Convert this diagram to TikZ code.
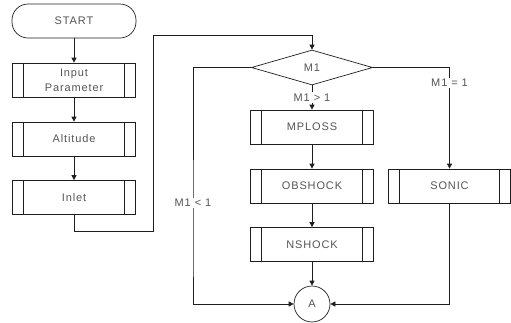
\documentclass[tikz,border=0pt]{standalone}
\usepackage{fontspec}
\setmainfont[LetterSpace=8]{Liberation Sans}
\usepackage{tikz}
\usetikzlibrary{shapes.geometric, arrows.meta}
\definecolor{ink}{RGB}{30,30,30}
\definecolor{txt}{RGB}{85,85,85}

\tikzset{
    box/.style={draw=ink, text=txt, font=\fontsize{11}{15}\selectfont,
        minimum width=123pt, minimum height=34pt, inner sep=0pt},
    proc/.style={box, align=center,
        path picture={
            \draw[ink] ([xshift=11pt]path picture bounding box.north west)
                -- ([xshift=11pt]path picture bounding box.south west);
            \draw[ink] ([xshift=-11pt]path picture bounding box.north east)
                -- ([xshift=-11pt]path picture bounding box.south east);
        }},
    term/.style={box, minimum width=124pt, rounded corners=16pt},
    dec/.style={box, diamond, aspect=3.4, minimum width=121pt, minimum height=35pt},
    conn/.style={box, circle, minimum width=36pt, minimum height=36pt},
    lbl/.style={fill=white, text=txt, font=\fontsize{11}{13}\selectfont, inner sep=1.5pt},
}

\begin{document}
\begin{tikzpicture}[x=1pt, y=-1pt, line width=0.7pt, draw=ink,
    >={Triangle[length=5pt, width=5pt]}]

    \useasboundingbox (0,0) rectangle (511,322);

    % left column
    \node[term] (start) at (74,21) {START};
    \node[proc] (input) at (74,80) {Input\\Parameter};
    \node[proc] (alt) at (74,139) {Altitude};
    \node[proc] (inlet) at (74,197.5) {Inlet};

    % branches
    \node[dec] (m1) at (312,67.5) {M1};
    \node[proc] (mploss) at (312,127) {MPLOSS};
    \node[proc] (obshock) at (312,186) {OBSHOCK};
    \node[proc] (nshock) at (312,244.5) {NSHOCK};
    \node[proc, minimum width=122pt] (sonic) at (449.5,186) {SONIC};
    \node[conn] (a) at (312,304) {A};

    \draw[->] (start) -- (input);
    \draw[->] (input) -- (alt);
    \draw[->] (alt) -- (inlet);
    \draw[->] (inlet.south) -- ++(0,16) -| (153,35) -| (m1.north);

    \draw[->] (m1) -- (mploss) node[lbl, midway] {M1 > 1};
    \draw[->] (mploss) -- (obshock);
    \draw[->] (obshock) -- (nshock);
    \draw[->] (nshock) -- (a);

    \draw[->] (m1.west) -| (193,250) |- (a.west);
    \node[lbl] (lt) at (193,203) {M1 < 1};

    \draw[->] (m1.east) -| (sonic.north);
    \node[lbl] (eq) at (449.5,83) {M1 = 1};
    \draw[->] (sonic.south) |- (a.east);

\end{tikzpicture}
\end{document}
